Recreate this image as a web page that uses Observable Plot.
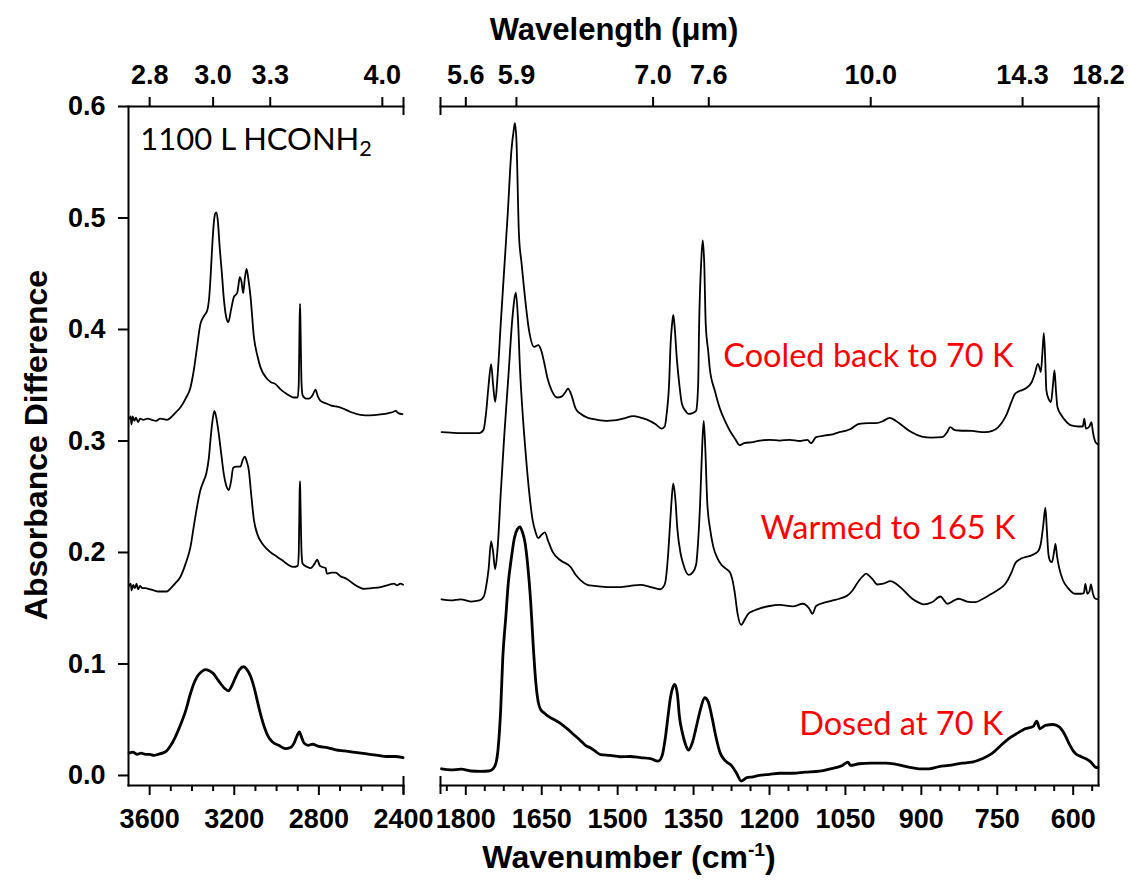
<!DOCTYPE html>
<html>
<head>
<meta charset="utf-8">
<script src="https://cdn.jsdelivr.net/npm/d3@7"></script>
<script src="https://cdn.jsdelivr.net/npm/@observablehq/plot@0.6"></script>
<style>
  body { margin: 0; background: #fff; overflow: hidden; }
  #chart { position: relative; width: 1130px; height: 881px; overflow: hidden; background: #fff; }
  #chart svg { position: absolute; left: 0; top: 0; }
  .title { position: absolute; font-family: "Liberation Sans", Arial, sans-serif; font-weight: bold; color: #000; white-space: nowrap; transform: translate(-50%, -50%); }
  .title sup { font-size: 0.6em; }
</style>
</head>
<body>
<div id="chart">
  <div class="title" style="left:614px; top:30px; font-size:31px;">Wavelength (μm)</div>
  <div class="title" style="left:629px; top:857px; font-size:32px;">Wavenumber (cm<sup>-1</sup>)</div>
  <div class="title" style="left:36px; top:445px; font-size:32px; transform: translate(-50%, -50%) rotate(-90deg);">Absorbance Difference</div>
</div>
<script>
// ---- Spectra: [wavenumber (cm-1), absorbance difference] ----
// O-H / N-H / C-H stretching region (3700-2400 cm-1)
const dosedLeft = [[3697,0.020],[3680,0.021],[3660,0.019],[3640,0.020],[3620,0.019],[3600,0.019],[3580,0.018],[3560,0.019],[3540,0.020],[3520,0.022],[3500,0.027],[3480,0.034],[3455,0.045],[3430,0.058],[3407,0.0735],[3390,0.083],[3374,0.089],[3355,0.093],[3337,0.095],[3318,0.094],[3299,0.0915],[3282,0.087],[3265,0.0825],[3245,0.078],[3228,0.076],[3210,0.081],[3194,0.088],[3175,0.095],[3156,0.0975],[3140,0.095],[3123,0.089],[3105,0.078],[3090,0.066],[3073,0.053],[3057,0.043],[3040,0.035],[3019,0.030],[2990,0.027],[2958,0.024],[2935,0.025],[2915,0.030],[2900,0.037],[2892,0.039],[2885,0.036],[2870,0.029],[2850,0.027],[2830,0.028],[2800,0.026],[2760,0.025],[2720,0.023],[2680,0.022],[2640,0.021],[2600,0.020],[2560,0.019],[2520,0.018],[2480,0.017],[2440,0.017],[2402,0.016]];

const warmedLeft = [[3697,0.170],[3690,0.172],[3685,0.166],[3678,0.171],[3670,0.168],[3662,0.172],[3655,0.167],[3645,0.170],[3635,0.168],[3620,0.168],[3600,0.167],[3580,0.166],[3560,0.165],[3540,0.165],[3518,0.165],[3500,0.168],[3480,0.172],[3455,0.178],[3430,0.190],[3407,0.205],[3390,0.225],[3376,0.241],[3360,0.256],[3345,0.264],[3332,0.271],[3320,0.285],[3313,0.300],[3303,0.318],[3294,0.327],[3285,0.321],[3273,0.306],[3260,0.286],[3250,0.271],[3238,0.260],[3226,0.256],[3215,0.264],[3205,0.276],[3190,0.277],[3171,0.277],[3160,0.283],[3150,0.286],[3140,0.281],[3131,0.2735],[3120,0.252],[3107,0.229],[3090,0.216],[3068,0.208],[3045,0.203],[3021,0.199],[3000,0.1965],[2973,0.193],[2945,0.189],[2920,0.187],[2900,0.188],[2895,0.200],[2891,0.255],[2889,0.264],[2887,0.245],[2882,0.200],[2877,0.190],[2855,0.187],[2839,0.186],[2820,0.190],[2808,0.1935],[2795,0.188],[2784,0.187],[2768,0.186],[2762,0.181],[2740,0.182],[2721,0.182],[2700,0.179],[2666,0.176],[2630,0.171],[2600,0.168],[2587,0.1674],[2550,0.168],[2508,0.169],[2470,0.171],[2445,0.172],[2430,0.1705],[2415,0.172],[2402,0.171]];

const cooledLeft = [[3697,0.320],[3690,0.322],[3686,0.315],[3680,0.322],[3672,0.318],[3665,0.321],[3655,0.317],[3645,0.320],[3630,0.319],[3610,0.320],[3590,0.319],[3570,0.318],[3550,0.320],[3518,0.319],[3500,0.321],[3480,0.325],[3455,0.330],[3430,0.338],[3407,0.348],[3390,0.365],[3376,0.384],[3360,0.405],[3340,0.413],[3328,0.417],[3318,0.430],[3313,0.444],[3305,0.472],[3297,0.495],[3290,0.504],[3284,0.505],[3277,0.496],[3269,0.474],[3258,0.449],[3250,0.429],[3240,0.413],[3228,0.4066],[3215,0.418],[3202,0.429],[3186,0.433],[3180,0.440],[3174,0.447],[3166,0.443],[3158,0.4326],[3150,0.446],[3142,0.4544],[3134,0.446],[3123,0.429],[3107,0.393],[3090,0.376],[3076,0.366],[3050,0.357],[3029,0.353],[3005,0.351],[2980,0.346],[2950,0.342],[2920,0.339],[2900,0.339],[2895,0.352],[2891,0.410],[2889,0.423],[2887,0.405],[2882,0.352],[2877,0.341],[2860,0.338],[2847,0.338],[2830,0.341],[2816,0.346],[2805,0.340],[2792,0.336],[2770,0.334],[2745,0.332],[2720,0.331],[2697,0.330],[2650,0.326],[2603,0.3235],[2560,0.323],[2508,0.3238],[2470,0.325],[2450,0.326],[2437,0.327],[2425,0.325],[2405,0.324]];

// Fingerprint region (1850-550 cm-1)
const dosedRight = [[1848,0.006],[1830,0.005],[1809,0.0056],[1790,0.004],[1770,0.0036],[1755,0.004],[1747,0.0056],[1740,0.012],[1736,0.025],[1731,0.06],[1727,0.105],[1721,0.142],[1716,0.173],[1710,0.195],[1704,0.213],[1698,0.221],[1693,0.223],[1688,0.218],[1683,0.209],[1678,0.190],[1672,0.157],[1667,0.118],[1662,0.085],[1657,0.066],[1652,0.059],[1645,0.056],[1639,0.0536],[1625,0.050],[1613,0.0468],[1600,0.042],[1587,0.0368],[1575,0.032],[1563,0.0268],[1554,0.0248],[1545,0.022],[1534,0.0188],[1515,0.018],[1495,0.0168],[1475,0.017],[1455,0.016],[1435,0.015],[1420,0.0128],[1412,0.018],[1406,0.033],[1400,0.055],[1396,0.069],[1391,0.079],[1387,0.0817],[1382,0.073],[1378,0.053],[1372,0.038],[1366,0.028],[1360,0.0228],[1352,0.030],[1344,0.0448],[1336,0.060],[1328,0.0697],[1321,0.066],[1314,0.053],[1306,0.035],[1298,0.0208],[1287,0.013],[1275,0.0088],[1265,0.002],[1256,-0.005],[1245,-0.002],[1233,-0.0012],[1220,0.000],[1200,0.001],[1180,0.002],[1154,0.002],[1130,0.003],[1101,0.0039],[1080,0.006],[1056,0.009],[1045,0.012],[1040,0.009],[1023,0.0105],[1000,0.011],[970,0.011],[950,0.010],[925,0.0075],[905,0.006],[885,0.006],[865,0.008],[846,0.009],[820,0.011],[800,0.0119],[780,0.015],[761,0.0195],[745,0.026],[728,0.0329],[710,0.038],[695,0.0419],[679,0.044],[672,0.0487],[666,0.0419],[655,0.045],[640,0.0457],[627,0.0433],[617,0.037],[608,0.0284],[600,0.022],[595,0.0195],[585,0.017],[575,0.015],[565,0.012],[556,0.0075],[551,0.007]];

const warmedRight = [[1848,0.158],[1830,0.157],[1810,0.158],[1790,0.156],[1773,0.157],[1765,0.160],[1760,0.169],[1755,0.185],[1750,0.210],[1746,0.200],[1742,0.185],[1737,0.205],[1731,0.253],[1724,0.305],[1716,0.357],[1708,0.410],[1703,0.430],[1701,0.433],[1697,0.410],[1693,0.365],[1687,0.320],[1681,0.285],[1675,0.255],[1668,0.229],[1662,0.218],[1657,0.213],[1650,0.216],[1644,0.218],[1637,0.210],[1629,0.201],[1613,0.193],[1593,0.187],[1583,0.180],[1573,0.175],[1560,0.171],[1547,0.170],[1520,0.169],[1495,0.169],[1475,0.170],[1455,0.171],[1435,0.169],[1416,0.167],[1410,0.169],[1406,0.173],[1400,0.200],[1396,0.229],[1392,0.255],[1390,0.262],[1386,0.248],[1382,0.221],[1376,0.200],[1370,0.189],[1360,0.180],[1352,0.182],[1345,0.189],[1341,0.210],[1337,0.245],[1333,0.295],[1330,0.318],[1327,0.295],[1323,0.245],[1317,0.220],[1311,0.205],[1303,0.195],[1295,0.189],[1285,0.185],[1278,0.182],[1273,0.175],[1269,0.165],[1263,0.145],[1256,0.135],[1250,0.139],[1242,0.145],[1230,0.148],[1219,0.1498],[1200,0.152],[1180,0.153],[1154,0.1516],[1134,0.154],[1122,0.150],[1115,0.145],[1108,0.152],[1088,0.1554],[1075,0.157],[1062,0.1585],[1046,0.1614],[1036,0.1659],[1023,0.1749],[1015,0.179],[1009,0.181],[1003,0.179],[997,0.1764],[987,0.1713],[975,0.172],[961,0.1743],[950,0.172],[938,0.1674],[918,0.1585],[905,0.155],[895,0.1534],[879,0.1554],[862,0.1605],[855,0.157],[849,0.154],[835,0.157],[826,0.1585],[810,0.156],[794,0.1554],[780,0.158],[767,0.1614],[750,0.166],[734,0.1719],[722,0.182],[715,0.1899],[705,0.194],[695,0.1958],[685,0.197],[676,0.1988],[668,0.202],[664,0.2078],[659,0.225],[655,0.2401],[652,0.220],[649,0.1988],[645,0.192],[642,0.1913],[638,0.200],[635,0.2078],[632,0.197],[628,0.1868],[620,0.1749],[610,0.168],[597,0.163],[585,0.163],[579,0.1635],[576,0.1719],[572,0.163],[568,0.165],[565,0.1713],[561,0.163],[556,0.1585],[551,0.158]];

const cooledRight = [[1848,0.308],[1830,0.3075],[1810,0.307],[1790,0.307],[1773,0.307],[1765,0.310],[1760,0.325],[1755,0.350],[1750,0.369],[1746,0.350],[1742,0.335],[1737,0.360],[1731,0.405],[1724,0.455],[1717,0.505],[1710,0.560],[1705,0.580],[1703,0.585],[1700,0.570],[1695,0.485],[1690,0.460],[1685,0.437],[1675,0.399],[1665,0.3844],[1657,0.386],[1651,0.3812],[1645,0.370],[1639,0.357],[1630,0.345],[1619,0.339],[1610,0.340],[1603,0.344],[1598,0.347],[1592,0.342],[1583,0.329],[1572,0.324],[1560,0.321],[1540,0.319],[1520,0.318],[1508,0.3184],[1490,0.320],[1469,0.3223],[1455,0.321],[1442,0.3191],[1425,0.315],[1413,0.3111],[1407,0.313],[1403,0.3251],[1398,0.355],[1396,0.381],[1392,0.407],[1390,0.413],[1387,0.400],[1383,0.3732],[1378,0.350],[1373,0.3331],[1366,0.327],[1360,0.3243],[1352,0.325],[1345,0.3271],[1341,0.350],[1339,0.405],[1335,0.460],[1332,0.480],[1329,0.460],[1326,0.405],[1321,0.380],[1318,0.365],[1308,0.345],[1298,0.329],[1288,0.318],[1278,0.309],[1268,0.302],[1259,0.2963],[1250,0.298],[1233,0.299],[1219,0.3004],[1200,0.301],[1180,0.3004],[1160,0.301],[1140,0.300],[1125,0.301],[1118,0.298],[1108,0.3034],[1090,0.305],[1075,0.306],[1062,0.3079],[1050,0.309],[1039,0.311],[1023,0.3154],[1005,0.316],[990,0.316],[975,0.318],[963,0.3208],[950,0.318],[938,0.3139],[920,0.308],[899,0.304],[880,0.303],[859,0.3034],[849,0.3079],[843,0.3124],[835,0.310],[826,0.3094],[800,0.309],[774,0.3079],[760,0.309],[748,0.3124],[740,0.317],[731,0.3244],[722,0.335],[715,0.3423],[705,0.345],[695,0.3468],[682,0.3527],[676,0.360],[670,0.3692],[666,0.365],[664,0.3617],[660,0.385],[658,0.3967],[655,0.370],[653,0.3453],[648,0.337],[644,0.3348],[640,0.350],[637,0.3632],[634,0.345],[631,0.3303],[623,0.3229],[615,0.318],[604,0.3139],[590,0.313],[581,0.313],[578,0.320],[575,0.311],[568,0.313],[564,0.3169],[561,0.3079],[556,0.299],[551,0.297]];

// ---- Axes ----
const yTicks = [0, 0.1, 0.2, 0.3, 0.4, 0.5, 0.6];
const leftMajor = [3600, 3200, 2800, 2400];
const leftMinor = [3500, 3400, 3300, 3100, 3000, 2900, 2700, 2600, 2500];
const rightMajor = [1800, 1650, 1500, 1350, 1200, 1050, 900, 750, 600];
const rightMinor = d3.range(1837.5, 550, -37.5).filter(v => !rightMajor.includes(v));

// wavelength (µm) labels on the top axis, at their wavenumber positions
const leftWavelengthLabels = ["2.8", "3.0", "3.3", "4.0"];
const leftWavelengthAt = [3600, 3300, 3030, 2500];
const rightWavelengthLabels = ["5.6", "5.9", "7.0", "7.6", "10.0", "14.3", "18.2"];
const rightWavelengthAt = [1800, 1700, 1430, 1320, 1000, 700, 550];

// stage annotations
const stageLabels = ["Cooled back to 70 K", "Warmed to 165 K", "Dosed at 70 K"];
const stageWn = [718, 714, 738];
const stageAbs = [0.3753, 0.2215, 0.0457];
const sampleLabel = "1100 L HCONH2";

const leftDomain = [3700, 2400];
const rightDomain = [1850, 550];
const yDomain = [-0.009, 0.6];

const tickFont = {fontFamily: "Liberation Sans, Arial, sans-serif", fontWeight: "bold", fontSize: 27};
const axisStroke = {stroke: "black", strokeWidth: 2};

const spectrum = (pts, w) => Plot.line(pts, {x: d => d[0], y: d => d[1], stroke: "black", strokeWidth: w, curve: "monotone-x"});
const cap = (x, y) => Plot.ruleX([x], {y1: y, y2: y, insetTop: -9, insetBottom: -9, ...axisStroke});
const wavelengthAxis = (at, labels) => {
  const lookup = new Map(at.map((v, i) => [v, labels[i]]));
  return Plot.axisX(at, {anchor: "top", tickSize: 10, tickPadding: 13, tickFormat: d => lookup.get(d), label: null, ...tickFont, ...axisStroke});
};

function panel(domain, marginLeft, marginRight, marks) {
  return Plot.plot({
    width: 1130, height: 881,
    marginTop: 106, marginBottom: 96, marginLeft, marginRight,
    x: {domain},
    y: {domain: yDomain},
    style: {background: "transparent", maxWidth: "none", overflow: "visible"},
    marks
  });
}

const left = panel(leftDomain, 128, 727, [
  Plot.frame({anchor: "left", ...axisStroke}),
  Plot.frame({anchor: "top", ...axisStroke}),
  Plot.frame({anchor: "bottom", ...axisStroke}),
  Plot.axisY(yTicks, {anchor: "left", tickSize: 10, tickPadding: 13, tickFormat: d3.format(".1f"), label: null, ...tickFont, ...axisStroke}),
  Plot.axisX(leftMajor, {anchor: "bottom", tickSize: 10, tickPadding: 13, tickFormat: d3.format("d"), label: null, ...tickFont, ...axisStroke}),
  Plot.axisX(leftMinor, {anchor: "bottom", tickSize: 6, tickFormat: () => "", label: null, ...axisStroke}),
  wavelengthAxis(leftWavelengthAt, leftWavelengthLabels),
  cap(leftDomain[1], yDomain[1]),
  cap(leftDomain[1], yDomain[0]),
  spectrum(cooledLeft, 1.8),
  spectrum(warmedLeft, 1.8),
  spectrum(dosedLeft, 2.8),
  Plot.text([sampleLabel], {x: 3644, y: 0.570, text: d => d, textAnchor: "start", lineAnchor: "middle", fontFamily: "Lato, sans-serif", fontSize: 31, fill: "black"})
]);

const right = panel(rightDomain, 440, 32, [
  Plot.axisY(yTicks, {anchor: "left", tickSize: 0, tickFormat: () => "", label: null, stroke: "none"}),
  Plot.frame({anchor: "top", ...axisStroke}),
  Plot.frame({anchor: "bottom", ...axisStroke}),
  Plot.frame({anchor: "right", ...axisStroke}),
  Plot.axisX(rightMajor, {anchor: "bottom", tickSize: 10, tickPadding: 13, tickFormat: d3.format("d"), label: null, ...tickFont, ...axisStroke}),
  Plot.axisX(rightMinor, {anchor: "bottom", tickSize: 6, tickFormat: () => "", label: null, ...axisStroke}),
  wavelengthAxis(rightWavelengthAt, rightWavelengthLabels),
  cap(rightDomain[0], yDomain[1]),
  cap(rightDomain[0], yDomain[0]),
  spectrum(cooledRight, 1.8),
  spectrum(warmedRight, 1.8),
  spectrum(dosedRight, 2.8),
  Plot.text(stageLabels.map((t, i) => ({t, wn: stageWn[i], a: stageAbs[i]})), {x: "wn", y: "a", text: "t", textAnchor: "end", lineAnchor: "middle", fontFamily: "Lato, sans-serif", fontSize: 32.5, fill: "#ff0000"})
]);

// subscript on the formula
d3.select(left).selectAll("text").filter(function () { return this.textContent === sampleLabel; }).each(function () {
  const t = d3.select(this);
  t.text(null);
  t.append("tspan").text(sampleLabel.slice(0, -1));
  t.append("tspan").attr("dy", "0.3em").attr("font-size", "0.7em").text(sampleLabel.slice(-1));
});

const chart = document.getElementById("chart");
chart.prepend(right);
chart.prepend(left);
</script>
</body>
</html>
